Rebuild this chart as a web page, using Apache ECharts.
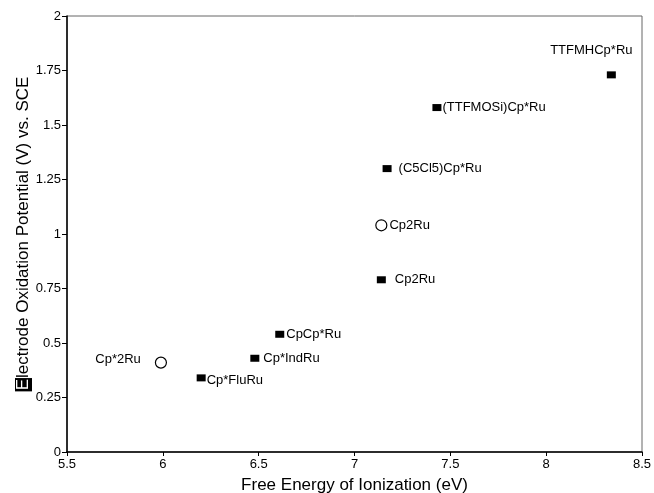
<!DOCTYPE html>
<html><head><meta charset="utf-8">
<script src="https://cdn.jsdelivr.net/npm/echarts@6/dist/echarts.min.js"></script>
<style>html,body{margin:0;padding:0;background:#fff}#c{width:654px;height:493px}</style>
</head><body><div id="c"></div>
<script>
// Filled squares
var sqNames = ['TTFMHCp*Ru', '(TTFMOSi)Cp*Ru', '(C5Cl5)Cp*Ru', 'Cp2Ru', 'CpCp*Ru', 'Cp*IndRu', 'Cp*FluRu'];
var sqX = [8.34, 7.43, 7.17, 7.14, 6.61, 6.48, 6.20];
var sqY = [1.73, 1.58, 1.30, 0.79, 0.54, 0.43, 0.34];
// Open circles
var circNames = ['Cp2Ru', 'Cp*2Ru'];
var circX = [7.14, 5.99];
var circY = [1.04, 0.41];

var xTicks = [5.5, 6, 6.5, 7, 7.5, 8, 8.5];
var yTicks = [0, 0.25, 0.5, 0.75, 1, 1.25, 1.5, 1.75, 2];

var font = 'Liberation Sans, Arial, Helvetica, sans-serif';
var sqLabel = {
  'TTFMHCp*Ru': {position: 'top', distance: 14, offset: [-20, 0]},
  '(TTFMOSi)Cp*Ru': {position: 'right', distance: 1},
  '(C5Cl5)Cp*Ru': {position: 'right', distance: 7},
  'Cp2Ru': {position: 'right', distance: 9},
  'CpCp*Ru': {position: 'right', distance: 2},
  'Cp*IndRu': {position: 'right', distance: 4},
  'Cp*FluRu': {position: 'right', distance: 1, offset: [0, 3]}
};
var circLabel = {
  'Cp2Ru': {position: 'right', distance: 2},
  'Cp*2Ru': {position: 'left', distance: 14, offset: [0, -3]}
};
function build(xs, ys, names, lab) {
  return xs.map(function (x, i) {
    var l = lab[names[i]];
    return {value: [x, ys[i]], name: names[i],
      label: Object.assign({show: true, formatter: names[i]}, l)};
  });
}

var chart = echarts.init(document.getElementById('c'));
chart.setOption({
  animation: false,
  backgroundColor: '#fff',
  textStyle: {fontFamily: font},
  grid: {left: 67, right: 12, top: 16, bottom: 41, show: true, borderColor: '#666', borderWidth: 1,
    containLabel: false, outerBoundsMode: 'none'},
  xAxis: {
    type: 'value', min: xTicks[0], max: xTicks[xTicks.length - 1], interval: 0.5,
    name: 'Free Energy of Ionization (eV)', nameLocation: 'middle', nameGap: 25, nameMoveOverlap: false,
    nameTextStyle: {fontSize: 17, color: '#000', fontFamily: font},
    axisLine: {lineStyle: {color: '#000', width: 1.5}},
    axisTick: {show: true, inside: false, length: 4, lineStyle: {color: '#000'}},
    axisLabel: {color: '#000', fontSize: 13, margin: 6, fontFamily: font},
    splitLine: {show: false}
  },
  yAxis: {
    type: 'value', min: yTicks[0], max: yTicks[yTicks.length - 1], interval: 0.25,
    name: '{e|E}lectrode Oxidation Potential (V) vs. SCE', nameLocation: 'middle', nameGap: 35, nameMoveOverlap: false,
    nameTextStyle: {fontSize: 17, color: '#000', fontFamily: font,
      rich: {e: {backgroundColor: '#000', color: '#fff', fontSize: 17, fontFamily: font, padding: [0, 1, 0, 1]}}},
    axisLine: {show: true, lineStyle: {color: '#000', width: 1.5}},
    axisTick: {show: true, inside: false, length: 5, lineStyle: {color: '#000'}},
    axisLabel: {color: '#000', fontSize: 13, margin: 6, fontFamily: font},
    splitLine: {show: false}
  },
  series: [
    {
      type: 'scatter', symbol: 'rect', symbolSize: [9, 7],
      itemStyle: {color: '#000', opacity: 1},
      label: {color: '#000', fontSize: 13, fontFamily: font},
      data: build(sqX, sqY, sqNames, sqLabel)
    },
    {
      type: 'scatter', symbol: 'circle', symbolSize: 11,
      itemStyle: {color: '#fff', borderColor: '#000', borderWidth: 1.2, opacity: 1},
      label: {color: '#000', fontSize: 13, fontFamily: font},
      data: build(circX, circY, circNames, circLabel)
    }
  ]
});
</script></body></html>
